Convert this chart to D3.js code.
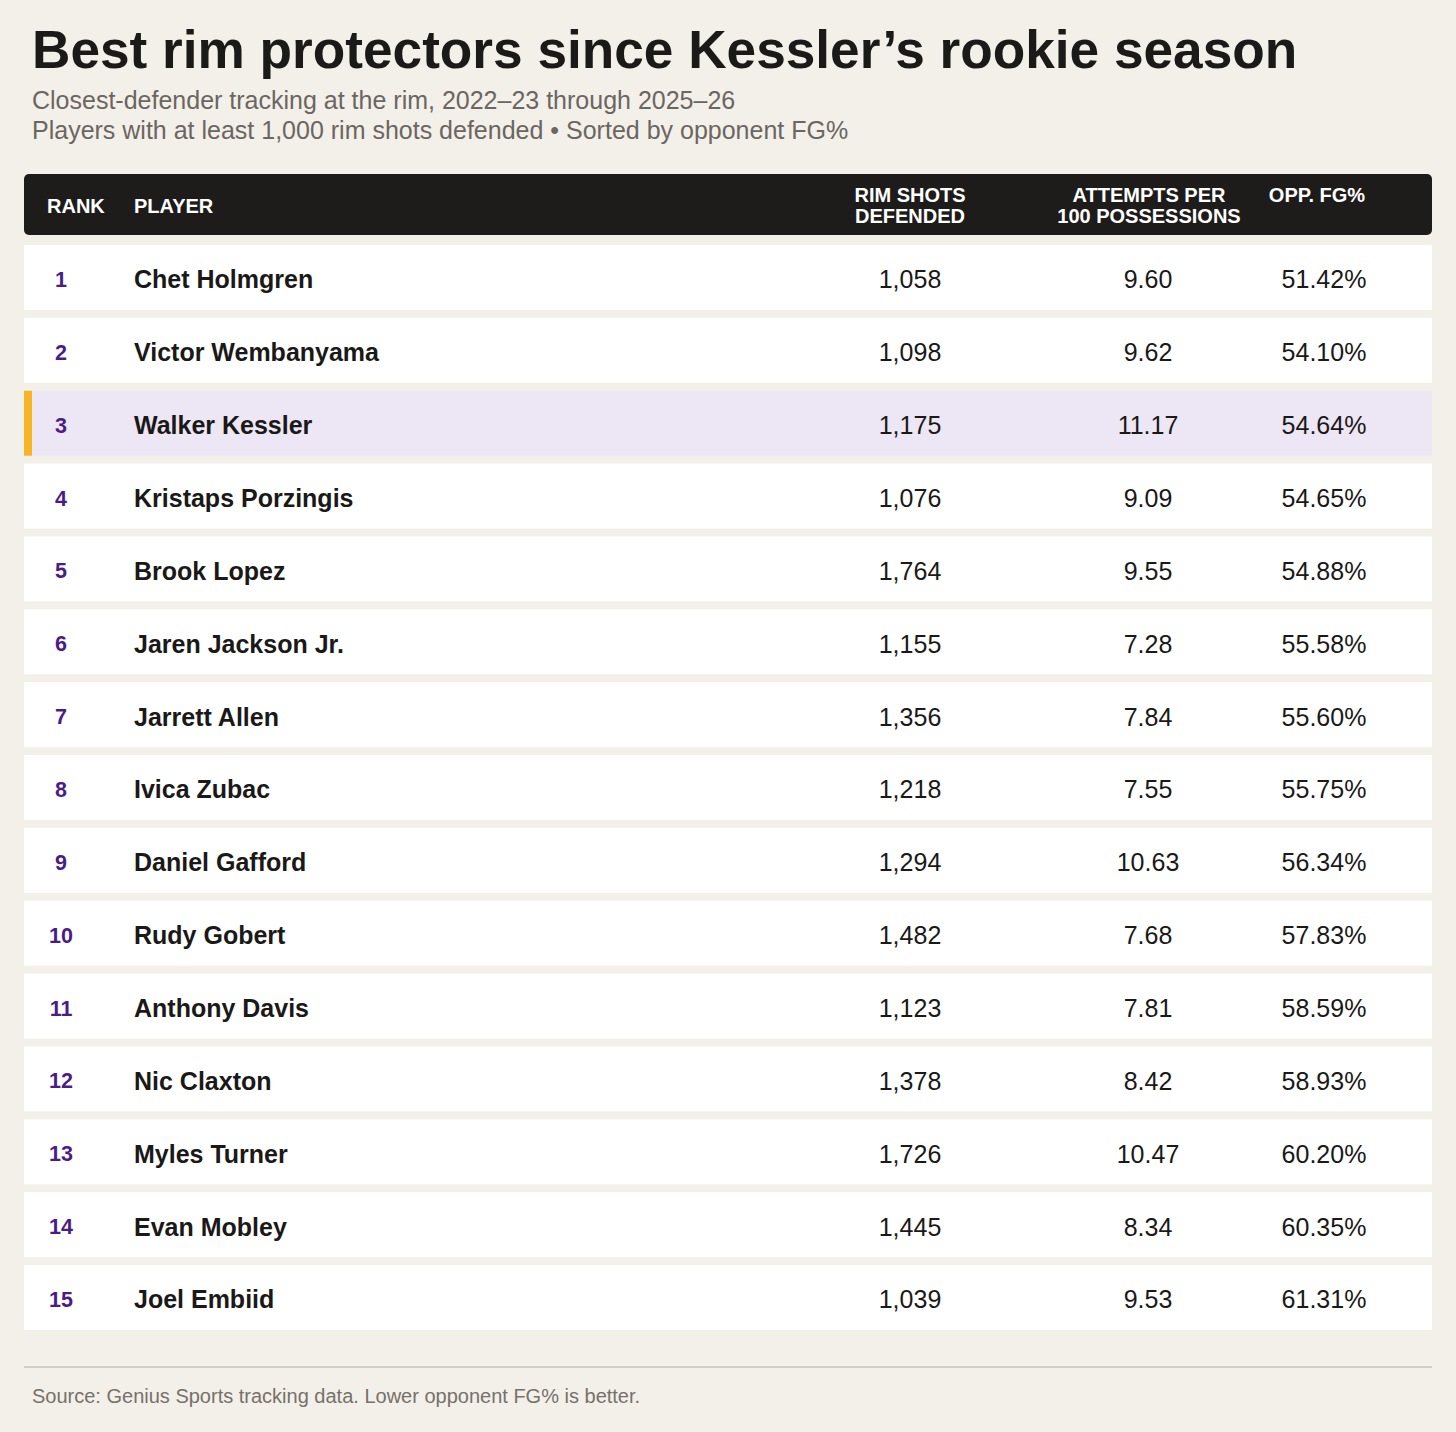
<!DOCTYPE html>
<html>
<head>
<meta charset="utf-8">
<script src="https://cdn.jsdelivr.net/npm/d3@7"></script>
<style>
  html, body { margin: 0; padding: 0; background: #f3f0e9; }
  svg { display: block; }
</style>
</head>
<body>
<svg id="chart" width="1456" height="1432"></svg>
<script>
// data
const ranks = [1, 2, 3, 4, 5, 6, 7, 8, 9, 10, 11, 12, 13, 14, 15];
const players = ["Chet Holmgren", "Victor Wembanyama", "Walker Kessler", "Kristaps Porzingis",
  "Brook Lopez", "Jaren Jackson Jr.", "Jarrett Allen", "Ivica Zubac", "Daniel Gafford",
  "Rudy Gobert", "Anthony Davis", "Nic Claxton", "Myles Turner", "Evan Mobley", "Joel Embiid"];
const rimShots = [1058, 1098, 1175, 1076, 1764, 1155, 1356, 1218, 1294, 1482, 1123, 1378, 1726, 1445, 1039];
const attemptsPer100 = [9.60, 9.62, 11.17, 9.09, 9.55, 7.28, 7.84, 7.55, 10.63, 7.68, 7.81, 8.42, 10.47, 8.34, 9.53];
const oppFgPct = [51.42, 54.10, 54.64, 54.65, 54.88, 55.58, 55.60, 55.75, 56.34, 57.83, 58.59, 58.93, 60.20, 60.35, 61.31];
const highlightPlayer = "Walker Kessler";

const columns = ["rank", "player", "rim", "att", "fg"];

const svg = d3.select("#chart");
const font = "'Liberation Sans', Arial, Helvetica, sans-serif";
const left = 24, right = 1432;

// title
svg.append("text")
  .attr("x", 32).attr("y", 68)
  .attr("font-family", font).attr("font-weight", 700)
  .attr("font-size", 53.2).attr("fill", "#1c1a18")
  .text("Best rim protectors since Kessler\u2019s rookie season");

svg.append("text")
  .attr("x", 32).attr("y", 108.5)
  .attr("font-family", font).attr("font-size", 25).attr("fill", "#6b6661")
  .text("Closest-defender tracking at the rim, 2022\u201323 through 2025\u201326");
svg.append("text")
  .attr("x", 32).attr("y", 138.5)
  .attr("font-family", font).attr("font-size", 25).attr("fill", "#6b6661")
  .text("Players with at least 1,000 rim shots defended \u2022 Sorted by opponent FG%");

// column x positions
const colX = d3.scaleOrdinal().domain(columns).range([61, 134, 910, 1148, 1324]);

// header bar
svg.append("rect")
  .attr("x", left).attr("y", 174)
  .attr("width", right - left).attr("height", 61)
  .attr("rx", 5)
  .attr("fill", "#1e1c1a");

const headers = [
  { col: "rank", lines: ["RANK"], x: 47, anchor: "start" },
  { col: "player", lines: ["PLAYER"], x: 134, anchor: "start" },
  { col: "rim", lines: ["RIM SHOTS", "DEFENDED"], x: 910, anchor: "middle" },
  { col: "att", lines: ["ATTEMPTS PER", "100 POSSESSIONS"], x: 1149, anchor: "middle" },
  { col: "fg", lines: ["OPP. FG%"], x: 1317, anchor: "middle" }
];

headers.forEach(h => {
  const t = svg.append("text")
    .attr("font-family", font).attr("font-weight", 700)
    .attr("font-size", 20).attr("fill", "#ffffff")
    .attr("text-anchor", h.anchor);
  if (h.col === "rank" || h.col === "player") {
    t.append("tspan").attr("x", h.x).attr("y", 213).text(h.lines[0]);
  } else {
    h.lines.forEach((line, i) => {
      t.append("tspan").attr("x", h.x).attr("y", 202 + i * 21).text(line);
    });
  }
});

// rows
const y = d3.scaleBand()
  .domain(ranks)
  .range([245, 1330])
  .paddingInner(0.108)
  .paddingOuter(0);

const rows = ranks.map((r, i) => ({
  rank: r,
  player: players[i],
  rim: rimShots[i],
  att: attemptsPer100[i],
  fg: oppFgPct[i]
}));

const rowG = svg.selectAll(".row")
  .data(rows)
  .enter()
  .append("g")
  .attr("class", "row")
  .attr("transform", d => `translate(0,${y(d.rank)})`);

rowG.append("rect")
  .attr("x", left).attr("y", 0)
  .attr("width", right - left).attr("height", y.bandwidth())
  .attr("fill", d => d.player === highlightPlayer ? "#ede6f4" : "#ffffff");

rowG.filter(d => d.player === highlightPlayer)
  .append("rect")
  .attr("x", left).attr("y", 0)
  .attr("width", 8).attr("height", y.bandwidth())
  .attr("fill", "#f7b526");

const mid = y.bandwidth() / 2 + 11;

rowG.append("text")
  .attr("x", colX("rank")).attr("y", mid - 1.5)
  .attr("text-anchor", "middle")
  .attr("font-family", font).attr("font-weight", 700)
  .attr("font-size", 21.5).attr("fill", "#4b1c87")
  .text(d => d.rank);

rowG.append("text")
  .attr("x", colX("player")).attr("y", mid)
  .attr("font-family", font).attr("font-weight", 700)
  .attr("font-size", 25).attr("fill", "#1a1918")
  .text(d => d.player);

const fmtInt = d3.format(",");
const fmt2 = d3.format(".2f");

rowG.append("text")
  .attr("x", colX("rim")).attr("y", mid)
  .attr("text-anchor", "middle")
  .attr("font-family", font).attr("font-size", 25).attr("fill", "#1a1918")
  .text(d => fmtInt(d.rim));

rowG.append("text")
  .attr("x", colX("att")).attr("y", mid)
  .attr("text-anchor", "middle")
  .attr("font-family", font).attr("font-size", 25).attr("fill", "#1a1918")
  .text(d => fmt2(d.att));

rowG.append("text")
  .attr("x", colX("fg")).attr("y", mid)
  .attr("text-anchor", "middle")
  .attr("font-family", font).attr("font-size", 25).attr("fill", "#1a1918")
  .text(d => fmt2(d.fg) + "%");

// footer
svg.append("line")
  .attr("x1", left).attr("x2", right)
  .attr("y1", 1367).attr("y2", 1367)
  .attr("stroke", "#c9c4bb").attr("stroke-width", 1.5);

svg.append("text")
  .attr("x", 32).attr("y", 1403)
  .attr("font-family", font).attr("font-size", 20).attr("fill", "#76716b")
  .text("Source: Genius Sports tracking data. Lower opponent FG% is better.");
</script>
</body>
</html>
